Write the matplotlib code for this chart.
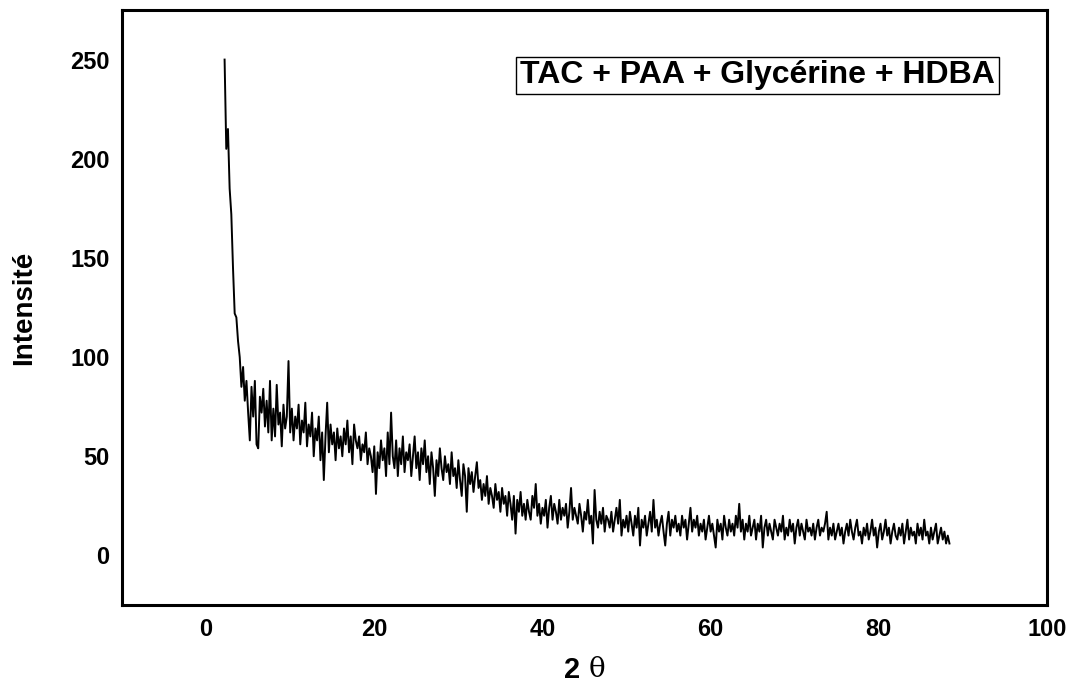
import numpy as np
import matplotlib
matplotlib.use("Agg")
import matplotlib.pyplot as plt

# ---- data ----
two_theta_start = 2.2
two_theta_step = 0.2
intensity = [
    250, 205, 215, 185, 172, 145, 122, 120, 108, 100,
    85, 95, 78, 88, 72, 58, 85, 70, 88, 56,
    54, 80, 72, 84, 65, 78, 62, 88, 58, 74,
    60, 86, 66, 72, 55, 76, 64, 70, 98, 62,
    74, 58, 70, 64, 76, 56, 68, 62, 77, 55,
    66, 60, 72, 50, 64, 58, 70, 48, 62, 38,
    60, 77, 52, 66, 56, 62, 48, 64, 54, 60,
    50, 64, 56, 68, 52, 60, 46, 66, 58, 54,
    60, 48, 56, 52, 62, 46, 54, 50, 42, 55,
    31, 52, 44, 58, 48, 54, 40, 62, 46, 72,
    50, 44, 58, 40, 54, 46, 60, 42, 52, 48,
    56, 40, 50, 60, 44, 52, 38, 54, 46, 58,
    42, 50, 36, 52, 44, 30, 48, 40, 54, 44,
    38, 50, 42, 46, 36, 52, 40, 44, 34, 48,
    38, 30, 46, 40, 22, 44, 36, 42, 32, 40,
    47, 34, 38, 28, 36, 30, 40, 26, 34, 30,
    24, 36, 28, 32, 22, 34, 26, 30, 20, 32,
    26, 18, 30, 11, 28, 22, 32, 20, 26, 18,
    28, 22, 18, 30, 24, 36, 20, 26, 16, 24,
    20, 28, 14, 24, 30, 18, 26, 22, 16, 28,
    18, 24, 20, 26, 14, 22, 34, 18, 24, 20,
    16, 26, 20, 12, 22, 18, 28, 16, 20, 6,
    33, 18, 14, 22, 16, 24, 12, 20, 18, 14,
    22, 12, 18, 24, 16, 28, 10, 18, 14, 20,
    12, 22, 16, 10, 20, 14, 24, 5, 18, 14,
    20, 10, 16, 22, 12, 28, 14, 18, 10, 16,
    20, 12, 5, 16, 22, 10, 18, 14, 20, 12,
    16, 10, 20, 14, 18, 8, 16, 24, 12, 18,
    14, 20, 10, 16, 12, 18, 8, 14, 20, 12,
    16, 10, 4, 18, 12, 16, 8, 20, 14, 10,
    18, 12, 16, 10, 20, 14, 26, 12, 18, 8,
    16, 12, 20, 10, 14, 18, 8, 16, 12, 20,
    4, 14, 18, 10, 16, 12, 8, 18, 14, 10,
    16, 12, 20, 8, 14, 10, 18, 12, 16, 6,
    14, 18, 10, 16, 12, 8, 18, 12, 14, 10,
    16, 8, 14, 18, 10, 14, 12, 16, 22, 8,
    14, 10, 16, 8, 12, 16, 10, 14, 6, 12,
    16, 10, 18, 12, 8, 14, 18, 10, 12, 6,
    14, 10, 16, 8, 12, 18, 10, 14, 4, 12,
    16, 8, 12, 18, 10, 14, 6, 12, 16, 10,
    8, 14, 10, 16, 6, 12, 18, 8, 14, 10,
    12, 6, 16, 10, 14, 8, 18, 10, 12, 6,
    14, 8, 12, 16, 6, 10, 14, 8, 12, 6,
    10, 6,
]
x_ticks = [0, 20, 40, 60, 80, 100]
y_ticks = [0, 50, 100, 150, 200, 250]
legend_label = "TAC + PAA + Glycérine + HDBA"
y_label = "Intensité"

two_theta = two_theta_start + two_theta_step * np.arange(len(intensity))

plt.rcParams['font.family'] = ['Liberation Sans', 'DejaVu Sans']

fig = plt.figure(figsize=(10.78, 6.88), dpi=100)
ax = fig.add_axes([122/1078, 1 - 605/688, (1047-122)/1078, (605-10)/688])

ax.plot(two_theta, intensity, color='black', lw=1.4)

ax.set_xlim(-10, 100)
ax.set_ylim(-25, 275)
ax.set_xticks(x_ticks)
ax.set_yticks(y_ticks)
ax.tick_params(axis='both', length=0, labelsize=17, pad=9)
for lab in ax.get_xticklabels() + ax.get_yticklabels():
    lab.set_fontweight('bold')
for sp in ax.spines.values():
    sp.set_linewidth(2.2)
    sp.set_color('black')

ax.set_ylabel(y_label, fontsize=20, fontweight='bold', labelpad=24)

ax.text(0.4865, -0.109, '2', transform=ax.transAxes, fontsize=21,
        fontweight='bold', ha='center', va='center')
ax.text(0.5135, -0.109, 'θ', transform=ax.transAxes, fontsize=20,
        family='DejaVu Serif', ha='center', va='center')

ax.text(65.6, 242, legend_label, fontsize=23, fontweight='bold',
        ha='center', va='center',
        bbox=dict(boxstyle='square,pad=0.12', facecolor='white',
                  edgecolor='black', linewidth=1.0))

fig.savefig('out.png', dpi=100)
